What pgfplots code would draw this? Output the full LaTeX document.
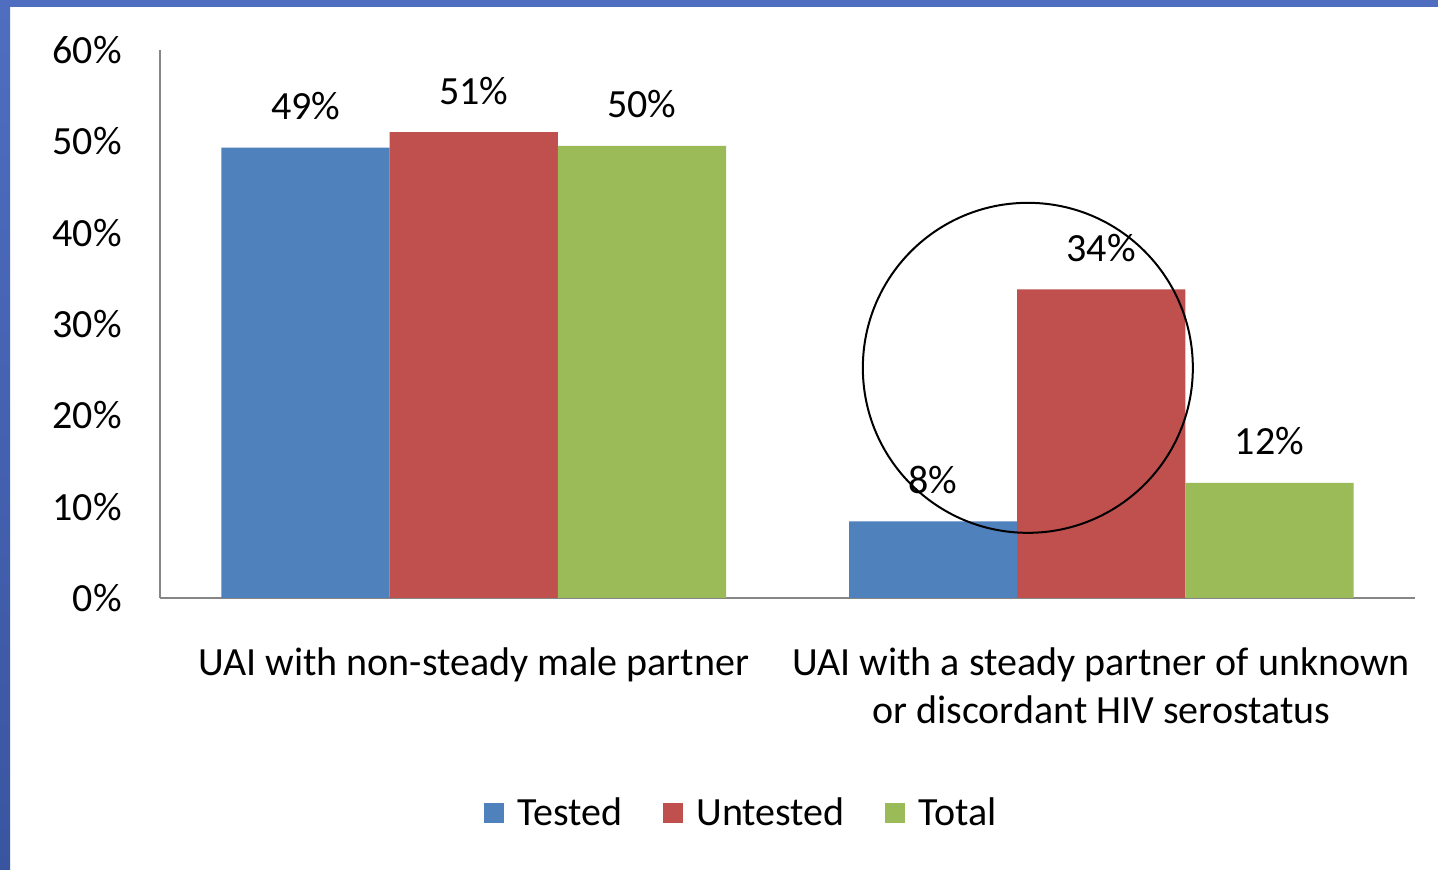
\documentclass[border=0pt]{standalone}
\usepackage{pgfplots}
\pgfplotsset{compat=1.18}
\usepackage{fontspec}
\setmainfont{Carlito}
\definecolor{cblue}{HTML}{4F81BD}
\definecolor{cred}{HTML}{C0504D}
\definecolor{cgreen}{HTML}{9BBB59}
\definecolor{axisgray}{HTML}{868686}
\definecolor{frametop}{HTML}{4F6EC0}
\definecolor{framebot}{HTML}{3A55A0}
\begin{document}
\begin{tikzpicture}
\useasboundingbox (0,0) rectangle (719pt,435pt);
\fill[white] (0,0) rectangle (719pt,435pt);
\fill[frametop] (0,431.5pt) rectangle (719pt,435pt);
\shade[top color=frametop, bottom color=framebot] (0,0) rectangle (5pt,435pt);
\begin{axis}[
  at={(80pt,136pt)}, anchor=south west, scale only axis,
  width=627.5pt, height=274pt,
  ymin=0, ymax=60, xmin=-0.5, xmax=1.5,
  ybar, bar width=0.268,
  clip=false,
  axis x line*=bottom, axis y line*=left,
  axis line style={-, draw=axisgray, line width=1pt},
  major tick length=0pt, tick style={draw=none},
  ytick={0,10,...,60},
  yticklabel={\pgfmathprintnumber[assume math mode=true]{\tick}\%},
  yticklabel style={font=\fontsize{20}{24}\selectfont, inner sep=0pt, xshift=-19pt},
  xtick={0,1},
  xticklabels={UAI with non-steady male partner, {UAI with a steady partner of unknown\\or discordant HIV serostatus}},
  xticklabel style={font=\fontsize{20}{24}\selectfont, align=center, inner sep=0pt, yshift=-24.5pt},
  nodes near coords,
  point meta=explicit symbolic,
  every node near coord/.append style={font=\fontsize{20}{24}\selectfont, anchor=base, yshift=14pt, black},
  legend image code/.code={\fill[#1] (0pt,-5pt) rectangle (10pt,5pt);},
  legend columns=-1,
  legend style={at={(0.464,-0.392)}, anchor=center, draw=none, fill=none,
    font=\fontsize{20}{24}\selectfont,
    /tikz/every even column/.append style={column sep=18pt}},
]
\addplot[fill=cblue, draw=none, bar shift=-0.268] coordinates {(0,49.3)[49\%] (1,8.4)[8\%]};
\addplot[fill=cred, draw=none, bar shift=0] coordinates {(0,51.0)[51\%] (1,33.8)[34\%]};
\addplot[fill=cgreen, draw=none, bar shift=0.268] coordinates {(0,49.5)[50\%] (1,12.6)[12\%]};
\legend{\hspace{5pt}Tested, \hspace{5pt}Untested, \hspace{5pt}Total}
\draw[line width=1pt] (axis cs:0.883,25.2) circle[radius=82.5pt];
\end{axis}
\end{tikzpicture}
\end{document}
